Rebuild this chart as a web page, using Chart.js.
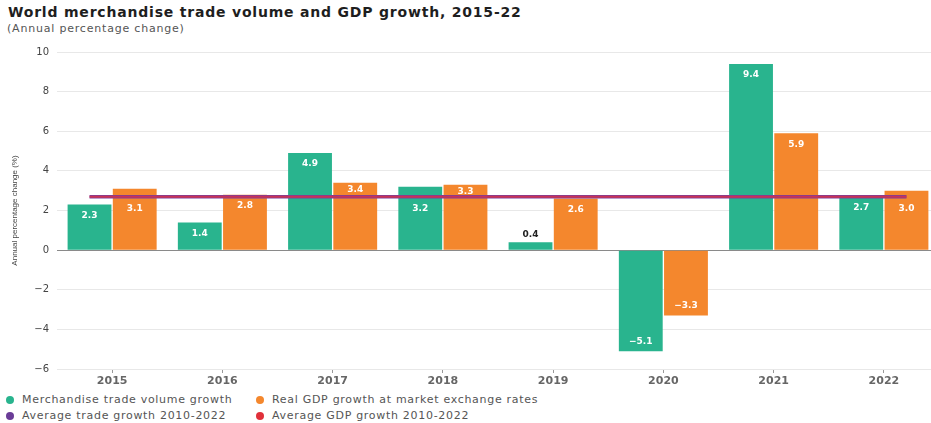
<!DOCTYPE html>
<html lang="en">
  <head>
    <meta charset="UTF-8" />
    <title>World merchandise trade volume and GDP growth, 2015-22</title>
    <script src="https://cdn.jsdelivr.net/npm/chart.js@4.4.1/dist/chart.umd.min.js"></script>
    <style>
      body {
        margin: 0;
        width: 931px;
        height: 423px;
        overflow: hidden;
        background: #fff;
        position: relative;
        font-family: "DejaVu Sans", sans-serif;
      }
      #title {
        position: absolute;
        left: 8px;
        top: 4px;
        font-size: 14px;
        font-weight: bold;
        letter-spacing: 0.8px;
        color: #1e1e1e;
        white-space: nowrap;
      }
      #subtitle {
        position: absolute;
        left: 7px;
        top: 22px;
        font-size: 11px;
        letter-spacing: 0.8px;
        color: #555;
        white-space: nowrap;
      }
      #wrap {
        position: absolute;
        left: 0;
        top: 0;
        width: 945px;
        height: 389px;
      }
      #legend {
        position: absolute;
        left: 6px;
        top: 392px;
        display: grid;
        grid-template-columns: 250px auto;
        font-size: 11px;
        letter-spacing: 0.7px;
        color: #555;
        line-height: 16px;
      }
      .item {
        display: flex;
        align-items: center;
        white-space: nowrap;
      }
      .dot {
        width: 8px;
        height: 8px;
        border-radius: 50%;
        margin-right: 8px;
      }
    </style>
  </head>
  <body>
    <div id="title">World merchandise trade volume and GDP growth, 2015-22</div>
    <div id="subtitle">(Annual percentage change)</div>
    <div id="wrap"><canvas id="tradeChart"></canvas></div>
    <div id="legend"></div>

    <script>
      const years = ["2015", "2016", "2017", "2018", "2019", "2020", "2021", "2022"];
      const tradeGrowth = [2.3, 1.4, 4.9, 3.2, 0.4, -5.1, 9.4, 2.7];
      const gdpGrowth = [3.1, 2.8, 3.4, 3.3, 2.6, -3.3, 5.9, 3.0];
      const avgTradeGrowth = 2.7;
      const avgGdpGrowth = 2.7;
      const yTicks = [-6, -4, -2, 0, 2, 4, 6, 8, 10];

      const seriesNames = [
        "Merchandise trade volume growth",
        "Real GDP growth at market exchange rates",
        "Average trade growth 2010-2022",
        "Average GDP growth 2010-2022",
      ];
      const seriesColors = ["#29b48e", "#f4872d", "#6a3c97", "#e0303a"];

      const minus = (v) => (v < 0 ? "\u2212" + Math.abs(v) : "" + v);

      Chart.defaults.font.family = "'DejaVu Sans', sans-serif";
      Chart.defaults.color = "#555";

      // value labels on the bars, kept clear of the average line
      const barLabels = {
        id: "barLabels",
        afterDatasetsDraw(chart) {
          const ctx = chart.ctx;
          const lineY = chart.scales.y.getPixelForValue(avgGdpGrowth);
          ctx.save();
          ctx.font = "bold 9px 'DejaVu Sans'";
          ctx.textAlign = "center";
          ctx.textBaseline = "middle";
          chart.data.datasets.forEach((ds, i) => {
            chart.getDatasetMeta(i).data.forEach((bar, j) => {
              const v = ds.data[j];
              const text = (v < 0 ? "\u2212" : "") + Math.abs(v).toFixed(1);
              let y;
              if (Math.abs(v) < 1) {
                ctx.fillStyle = "#222";
                y = bar.y - 8;
              } else if (v > 0) {
                ctx.fillStyle = "#fff";
                y = bar.y + 11;
                if (Math.abs(y - lineY) < 9) {
                  y = lineY - bar.y >= 10 ? bar.y + 7 : lineY + 12;
                }
              } else {
                ctx.fillStyle = "#fff";
                y = bar.y - 10;
              }
              ctx.fillText(text, bar.x, y);
            });
          });
          ctx.restore();
        },
      };

      // 2010-2022 averages, from the first trade bar to the last GDP bar
      const avgLines = {
        id: "avgLines",
        afterDatasetsDraw(chart) {
          const ctx = chart.ctx;
          const y = chart.scales.y;
          const first = chart.getDatasetMeta(0).data[0];
          const last = chart.getDatasetMeta(1).data[years.length - 1];
          const draw = (value, color, width) => {
            ctx.beginPath();
            ctx.strokeStyle = color;
            ctx.lineWidth = width;
            ctx.moveTo(first.x, y.getPixelForValue(value));
            ctx.lineTo(last.x, y.getPixelForValue(value));
            ctx.stroke();
          };
          ctx.save();
          draw(avgTradeGrowth, "#7a3f9d", 3.5);
          draw(avgGdpGrowth, "rgba(214, 48, 74, 0.85)", 2);
          ctx.restore();
        },
      };

      const chart = new Chart(document.getElementById("tradeChart"), {
        type: "bar",
        data: {
          labels: years,
          datasets: [
            {
              label: seriesNames[0],
              data: tradeGrowth,
              backgroundColor: seriesColors[0],
            },
            {
              label: seriesNames[1],
              data: gdpGrowth,
              backgroundColor: seriesColors[1],
            },
          ],
        },
        options: {
          responsive: true,
          maintainAspectRatio: false,
          animation: false,
          categoryPercentage: 0.82,
          barPercentage: 0.97,
          layout: { padding: { top: 52, right: 6, bottom: 0, left: 2 } },
          plugins: {
            legend: { display: false },
            tooltip: { enabled: false },
          },
          scales: {
            x: {
              grid: {
                display: true,
                drawOnChartArea: false,
                offset: false,
                tickLength: 4,
                tickColor: "#999",
              },
              border: { display: false },
              ticks: { color: "#666", font: { size: 11, weight: "bold" }, padding: 2 },
              afterFit: (s) => {
                s.height = 20;
              },
            },
            y: {
              min: yTicks[0],
              max: yTicks[yTicks.length - 1],
              afterBuildTicks: (s) => {
                s.ticks = yTicks.map((v) => ({ value: v }));
              },
              ticks: {
                color: "#444",
                font: { size: 10 },
                padding: 8,
                callback: (v) => minus(v),
              },
              grid: {
                drawTicks: false,
                color: (c) => (c.tick && c.tick.value === 0 ? "#8a8a8a" : "#e8e8e8"),
              },
              border: { display: false },
              title: {
                display: true,
                text: "Annual percentage change (%)",
                color: "#444",
                font: { size: 8, family: "'Liberation Sans', sans-serif" },
                padding: { top: 8, bottom: 0 },
              },
              afterFit: (s) => {
                s.width = 55;
              },
            },
          },
        },
        plugins: [avgLines, barLabels],
      });

      const legend = document.getElementById("legend");
      seriesNames.forEach((name, i) => {
        const item = document.createElement("div");
        item.className = "item";
        const dot = document.createElement("span");
        dot.className = "dot";
        dot.style.background = seriesColors[i];
        item.appendChild(dot);
        item.appendChild(document.createTextNode(name));
        legend.appendChild(item);
      });
    </script>
  </body>
</html>
